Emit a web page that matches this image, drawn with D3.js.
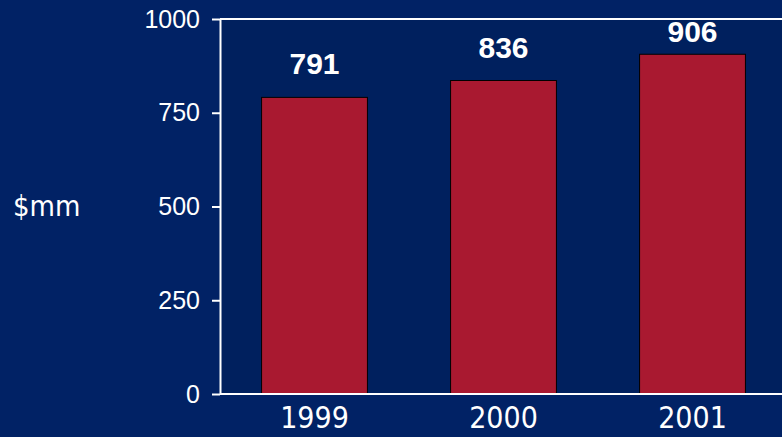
<!DOCTYPE html>
<html>
<head>
<meta charset="utf-8">
<script src="https://cdn.jsdelivr.net/npm/d3@7"></script>
<style>
  body { margin: 0; background: #012265; overflow: hidden; }
</style>
</head>
<body>
<script>
// chart data
var years = ["1999", "2000", "2001"];
var revenue = [791, 836, 906];
var yTicks = [0, 250, 500, 750, 1000];

window.onload = drawChart();

function drawChart(){
    var width = 782,
        height = 437;

    var svg = d3.select("body")
        .append("svg")
        .attr("width", width)
        .attr("height", height);

    //background
    svg.append("rect")
        .attr("width", width)
        .attr("height", height)
        .style("fill", "#012265");

    var x = d3.scaleBand()
        .domain(years)
        .range([220, 787])
        .paddingInner(0.44)
        .paddingOuter(0.22);

    var y = d3.scaleLinear()
        .domain([0, 1000])
        .range([394, 19]);

    //plot area
    svg.append("rect")
        .attr("x", 220)
        .attr("y", y(1000))
        .attr("width", width - 220)
        .attr("height", y(0) - y(1000))
        .style("fill", "#00205e");

    //bars
    svg.selectAll(".bar")
        .data(years)
        .enter()
        .append("rect")
        .attr("class", "bar")
        .attr("x", function(d){ return x(d); })
        .attr("y", function(d, i){ return y(revenue[i]); })
        .attr("width", x.bandwidth())
        .attr("height", function(d, i){ return y(0) - y(revenue[i]); })
        .style("fill", "#A91930")
        .style("stroke", "#000")
        .style("stroke-width", 1);

    //value labels (kept below the top frame line)
    svg.selectAll(".val")
        .data(years)
        .enter()
        .append("text")
        .attr("class", "val")
        .attr("x", function(d){ return x(d) + x.bandwidth() / 2; })
        .attr("y", function(d, i){ return Math.max(y(revenue[i]) - 23, 42); })
        .attr("text-anchor", "middle")
        .style("font-family", "Liberation Sans, Arial, sans-serif")
        .style("font-weight", "bold")
        .style("font-size", "30px")
        .style("fill", "#fff")
        .text(function(d, i){ return revenue[i]; });

    //top frame line at 1000
    svg.append("line")
        .attr("x1", 220).attr("x2", width)
        .attr("y1", y(1000)).attr("y2", y(1000))
        .style("stroke", "#fff").style("stroke-width", 2);

    //y axis
    var yAxis = svg.append("g")
        .attr("transform", "translate(220,0)")
        .call(d3.axisLeft(y).tickValues(yTicks).tickFormat(d3.format("d"))
            .tickSize(8).tickPadding(12).tickSizeOuter(0));
    yAxis.select(".domain").style("stroke", "#fff").style("stroke-width", 2);
    yAxis.selectAll(".tick line").style("stroke", "#fff").style("stroke-width", 2);
    yAxis.selectAll(".tick text")
        .style("font-family", "Liberation Sans, Arial, sans-serif")
        .style("font-size", "25px")
        .style("fill", "#fff");

    //x axis
    var xAxis = svg.append("g")
        .attr("transform", "translate(0,394)")
        .call(d3.axisBottom(x).tickSize(0).tickPadding(13).tickSizeOuter(0));
    xAxis.select(".domain")
        .attr("d", "M220,0H" + width)
        .style("stroke", "#fff").style("stroke-width", 2);
    xAxis.selectAll(".tick text")
        .style("font-family", "DejaVu Sans Condensed, DejaVu Sans, sans-serif")
        .style("font-stretch", "condensed")
        .style("font-size", "30px")
        .style("fill", "#fff");

    //axis title
    svg.append("text")
        .attr("x", 13)
        .attr("y", 216)
        .style("font-family", "DejaVu Sans Condensed, DejaVu Sans, sans-serif")
        .style("font-stretch", "condensed")
        .style("font-size", "29px")
        .style("fill", "#fff")
        .text("$mm");
}
</script>
</body>
</html>
